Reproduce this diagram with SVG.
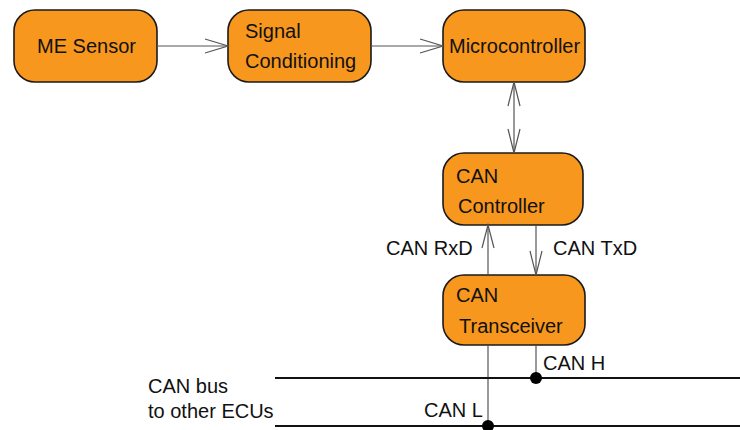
<svg xmlns="http://www.w3.org/2000/svg" width="740" height="430" viewBox="0 0 740 430">
<style>
.box{fill:#F7971E;stroke:#1a1a1a;stroke-width:1.6}
.t{font-family:"Liberation Sans",Arial,sans-serif;font-size:20px;fill:#111}
.c{stroke:#555;stroke-width:1.2;fill:none}
.ah{stroke:#555;stroke-width:1.2;fill:none}
.bus{stroke:#111;stroke-width:2;fill:none}
</style>
<rect width="740" height="430" fill="#fff"/>
<g id="me-sensor"><rect class="box" x="14" y="10" width="143" height="72" rx="21"/><text class="t" x="37" y="53">ME Sensor</text></g>
<g id="signal-conditioning"><rect class="box" x="228" y="10" width="143" height="72" rx="21"/><text class="t" x="245" y="38">Signal</text><text class="t" x="245" y="68">Conditioning</text></g>
<g id="microcontroller"><rect class="box" x="443" y="10" width="142" height="72" rx="21"/><text class="t" x="449" y="53">Microcontroller</text></g>
<g id="can-controller"><rect class="box" x="443" y="153" width="140" height="72" rx="21"/><text class="t" x="456" y="183">CAN</text><text class="t" x="458" y="213">Controller</text></g>
<g id="can-transceiver"><rect class="box" x="443" y="275" width="142" height="70" rx="21"/><text class="t" x="456" y="302">CAN</text><text class="t" x="459" y="333">Transceiver</text></g>
<g id="connectors">
<path class="c" d="M157 46H228"/><path class="ah" d="M205 39L228 46L205 53"/>
<path class="c" d="M371 46H443"/><path class="ah" d="M420 39L443 46L420 53"/>
<path class="c" d="M514 82V153"/><path class="ah" d="M508 106L514 82L520 106M508 129L514 153L520 129"/>
<path class="c" d="M488 275V225"/><path class="ah" d="M482 248L488 225L494 248"/>
<path class="c" d="M488 345V426"/>
<path class="c" d="M536 225V275"/><path class="ah" d="M530 251L536 275L542 251"/>
<path class="c" d="M536 345V378"/>
<text class="t" x="386" y="255">CAN RxD</text>
<text class="t" x="553" y="255">CAN TxD</text>
</g>
<g id="can-bus">
<path class="bus" d="M275 378H740M275 426H740"/>
<circle cx="536" cy="378" r="6" fill="#000"/>
<circle cx="488" cy="426" r="6" fill="#000"/>
<text class="t" x="543" y="370">CAN H</text>
<text class="t" x="424" y="417">CAN L</text>
<text class="t" x="148" y="393">CAN bus</text>
<text class="t" x="148" y="418">to other ECUs</text>
</g>
</svg>
